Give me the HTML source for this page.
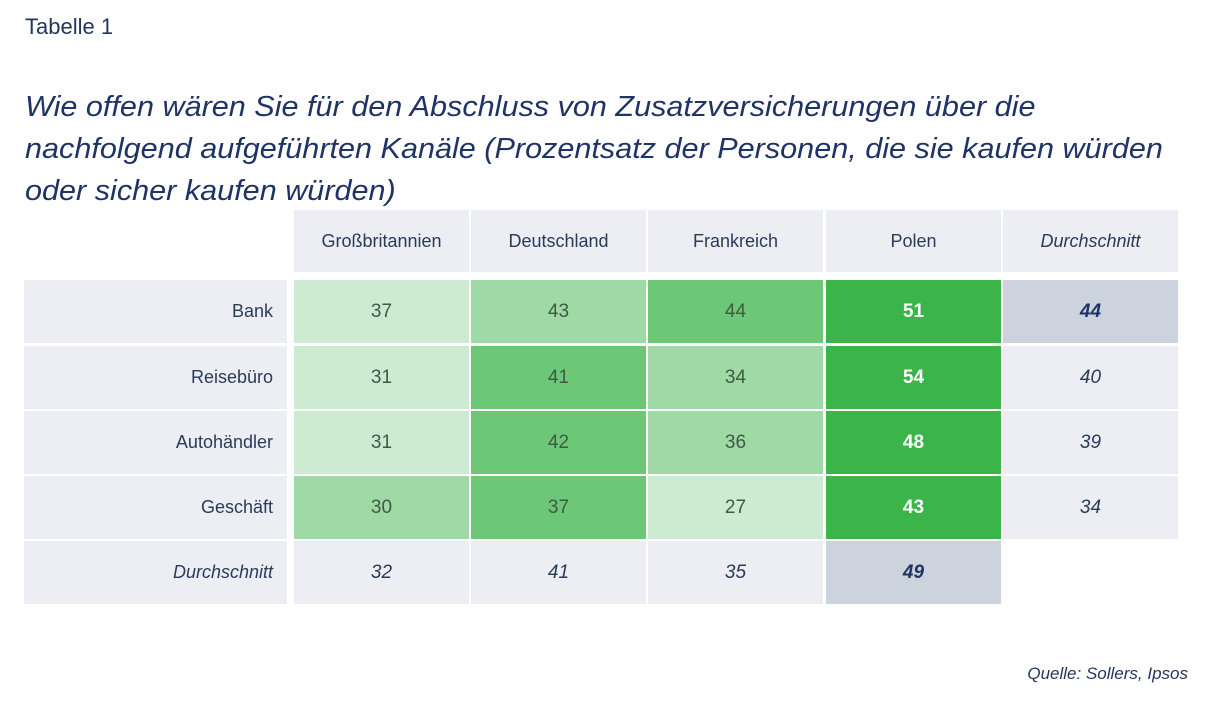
<!DOCTYPE html>
<html><head><meta charset="utf-8"><style>
body{margin:0;width:1225px;height:714px;background:#fff;font-family:"Liberation Sans",sans-serif;color:#24355f;position:relative;overflow:hidden}
.t{position:absolute;left:25px;top:14px;font-size:22px}
.h{position:absolute;left:25px;top:86px;font-size:29px;font-style:italic;line-height:42px;color:#1f3366;width:1100px;white-space:nowrap;transform:scaleX(1.055);transform-origin:0 0}
.c{position:absolute;display:flex;align-items:center;justify-content:center;font-size:19px;color:#3e5a45}
.g{background:#eceef3;color:#2c3a5a}
.l{justify-content:flex-end;padding-right:14px;box-sizing:border-box}
.q{position:absolute;right:37px;top:664px;font-size:17px;font-style:italic;color:#24355f}
</style></head><body>
<div class="t">Tabelle 1</div>
<div class="h">Wie offen wären Sie für den Abschluss von Zusatzversicherungen über die<br>nachfolgend aufgeführten Kanäle (Prozentsatz der Personen, die sie kaufen würden<br>oder sicher kaufen würden)</div>
<div id="tb"></div>
<div class="q">Quelle: Sollers, Ipsos</div>
<script>
var X=[294,471,648,826,1003],W=175,Y=[280,346,411,476,541],H=63;
var hd=["Großbritannien","Deutschland","Frankreich","Polen","<i>Durchschnitt</i>"];
var rl=["Bank","Reisebüro","Autohändler","Geschäft","<i>Durchschnitt</i>"];
var L="#cdebd1",M="#9fd9a5",G="#6cc777",D="#3bb44a",P="#eceef3",S="#ccd3dd";
var d=[[[37,L],[43,M],[44,G],[51,D],[44,S]],[[31,L],[41,G],[34,M],[54,D],[40,P]],[[31,L],[42,G],[36,M],[48,D],[39,P]],[[30,M],[37,G],[27,L],[43,D],[34,P]],[[32,P],[41,P],[35,P],[49,S],null]];
var h="";
for(var i=0;i<5;i++)h+='<div class="c g" style="left:'+X[i]+'px;top:210px;width:'+W+'px;height:62px;font-size:18px">'+hd[i]+'</div>';
for(var r=0;r<5;r++){h+='<div class="c g l" style="left:24px;top:'+Y[r]+'px;width:263px;height:'+H+'px;font-size:18px">'+rl[r]+'</div>';
for(var i=0;i<5;i++){var v=d[r][i];if(!v)continue;var st="";
if(v[1]==D)st="color:#fff;font-weight:bold;";else if(v[1]==S)st="color:#1f3366;font-weight:bold;font-style:italic;";else if(v[1]==P)st="color:#2c3a5a;font-style:italic;";
h+='<div class="c" style="left:'+X[i]+'px;top:'+Y[r]+'px;width:'+W+'px;height:'+H+'px;background:'+v[1]+';'+st+'">'+v[0]+'</div>';}}
document.getElementById("tb").innerHTML=h;
</script>
</body></html>
